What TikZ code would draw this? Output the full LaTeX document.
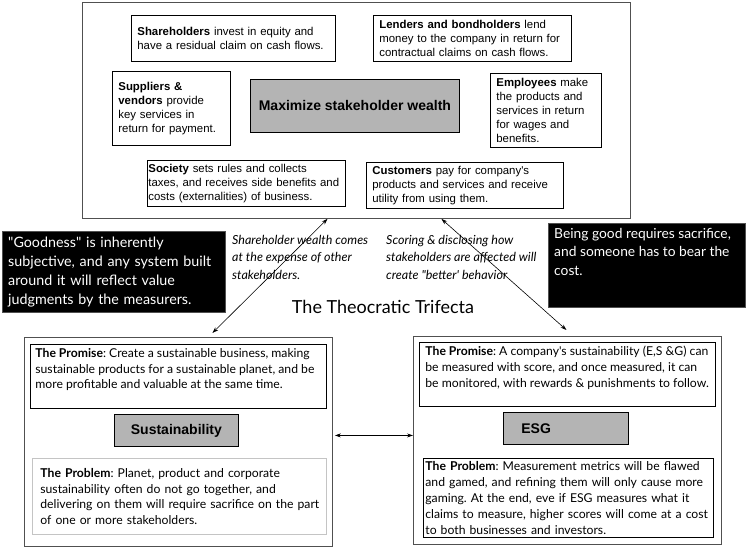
\documentclass[tikz,border=0pt]{standalone}
\usepackage{fontspec}
\newfontfamily\latofont{Lato}
\newfontfamily\arialfont{Liberation Sans}
\usetikzlibrary{arrows.meta}
\definecolor{boxgray}{HTML}{B4B4B4}
\definecolor{edgegray}{HTML}{505050}
\definecolor{lightedge}{HTML}{C4C4C4}
\tikzset{
  card/.style={draw=black, line width=0.8pt, anchor=north west, inner ysep=0pt, align=left,
    font=\arialfont\fontsize{11.4}{13.8}\selectfont},
  panel/.style={draw=edgegray, line width=0.9pt, anchor=north west, inner sep=0pt},
  slab/.style={draw=black, line width=0.8pt, fill=boxgray, anchor=north west, inner sep=0pt,
    font=\arialfont\bfseries\fontsize{14}{16}\selectfont},
  note/.style={draw=black, line width=0.8pt, anchor=north west, inner ysep=0pt, align=left,
    font=\latofont\fontsize{12.2}{15.6}\selectfont},
  verdict/.style={draw=edgegray, fill=black, text=white, anchor=north west, align=left,
    font=\latofont\fontsize{14.3}{19}\selectfont},
  aside/.style={anchor=north west, inner sep=0pt, align=left,
    font=\latofont\itshape\fontsize{12.5}{17.5}\selectfont},
  dbl/.style={{Stealth[length=6pt,width=4pt]}-{Stealth[length=6pt,width=4pt]}, line width=0.6pt}
}
\frenchspacing
\begin{document}
\begin{tikzpicture}[x=1pt,y=-1pt]
  \useasboundingbox (0,0) rectangle (747,548);
  % stakeholders
  \node[panel, minimum width=548, minimum height=216] (0) at (82,2) {};
  \node[card, minimum width=204, minimum height=46, text width=192, inner xsep=6] (1) at (131,15)
    {\textbf{Shareholders} invest in equity and\\have a residual claim on cash flows.};
  \node[card, minimum width=198, minimum height=46, text width=186, inner xsep=6] (2) at (373,15)
    {\textbf{Lenders and bondholders} lend\\\mbox{money to the company in return for}\\contractual claims on cash flows.};
  \node[card, minimum width=118, minimum height=74, text width=106, inner xsep=6] (3) at (112,71)
    {\textbf{Suppliers \&}\\\textbf{vendors} provide\\key services in\\return for payment.};
  \node[slab, minimum width=209, minimum height=53] (4) at (250,79) {Maximize stakeholder wealth};
  \node[card, minimum width=111, minimum height=74, text width=99, inner xsep=6] (5) at (490,73)
    {\textbf{Employees} make\\the products and\\services in return\\for wages and\\benefits.};
  \node[card, minimum width=198, minimum height=46, text width=196, inner xsep=1] (6) at (147,160)
    {\textbf{Society} sets rules and collects\\\mbox{taxes, and receives side benefits and}\\costs (externalities) of business.};
  \node[card, minimum width=197, minimum height=46, text width=185, inner xsep=6] (7) at (366,162)
    {\textbf{Customers} pay for company's\\\mbox{products and services and receive}\\utility from using them.};
  % verdicts and remarks
  \node[verdict, minimum width=223, minimum height=81, text width=211, inner xsep=6, inner ysep=0] (8) at (2,231)
    {"Goodness" is inherently\\subjective, and any system built\\around it will reflect value\\judgments by the measurers.};
  \node[verdict, minimum width=197, inner xsep=6, inner ysep=5, font=\latofont\fontsize{13.8}{18.5}\selectfont] (9) at (548,223)
    {\parbox[t][74pt][t]{185pt}{\raggedright Being good requires sacrifice,\\and someone has to bear the\\cost.}};
  \node[aside] (10) at (232,235) {Shareholder wealth comes\\at the expense of other\\stakeholders.};
  \node[aside] (11) at (386,235) {Scoring \& disclosing how\\stakeholders are affected will\\create "better' behavior};
  \node[font=\latofont\fontsize{18}{20}\selectfont] (12) at (383,307) {The Theocratic Trifecta};
  %% sustainability
  \node[panel, minimum width=308, minimum height=209] (13) at (24,337) {};
  \node[note, minimum width=296, inner xsep=5, inner ysep=4] (14) at (30,344)
    {\parbox[t][56pt][t]{286pt}{\raggedright\textbf{The Promise}: Create a sustainable business, making\\sustainable products for a sustainable planet, and be\\more profitable and valuable at the same time.}};
  \node[slab, minimum width=124, minimum height=32] (15) at (114,414) {Sustainability};
  \node[note, draw=lightedge, minimum width=294, minimum height=76, text width=278, inner xsep=8] (16) at (32,458)
    {\textbf{The Problem}: Planet, product and corporate\\sustainability often do not go together, and\\\mbox{delivering on them will require sacrifice on the part}\\of one or more stakeholders.};
  %% esg
  \node[panel, minimum width=308, minimum height=208] (17) at (413,336) {};
  \node[note, minimum width=296, inner xsep=6, inner ysep=4] (18) at (419,342)
    {\parbox[t][56pt][t]{284pt}{\raggedright\textbf{The Promise}: A company's sustainability (E,S \&G) can\\be measured with score, and once measured, it can\\be monitored, with rewards \& punishments to follow.}};
  \node[slab, minimum width=125, minimum height=32, text width=89, inner xsep=18, align=left] (19) at (503,412) {ESG};
  \node[note, minimum width=290, minimum height=79, text width=286, inner xsep=2, font=\latofont\fontsize{12.2}{16}\selectfont] (20) at (423,458)
    {\textbf{The Problem}: Measurement metrics will be flawed\\and gamed, and refining them will only cause more\\gaming. At the end, eve if ESG measures what it\\\mbox{claims to measure, higher scores will come at a cost}\\to both businesses and investors.};
  % arrows
  \draw[dbl] ([xshift=34pt,yshift=4pt]13.north) to ([xshift=-29pt]0.south);
  \draw[dbl] ([xshift=-1pt,yshift=6pt]17.north) to ([xshift=85pt]0.south);
  \draw[dbl] ([xshift=2pt,yshift=6.5pt]13.east) to ([yshift=5pt]17.west);
\end{tikzpicture}
\end{document}
